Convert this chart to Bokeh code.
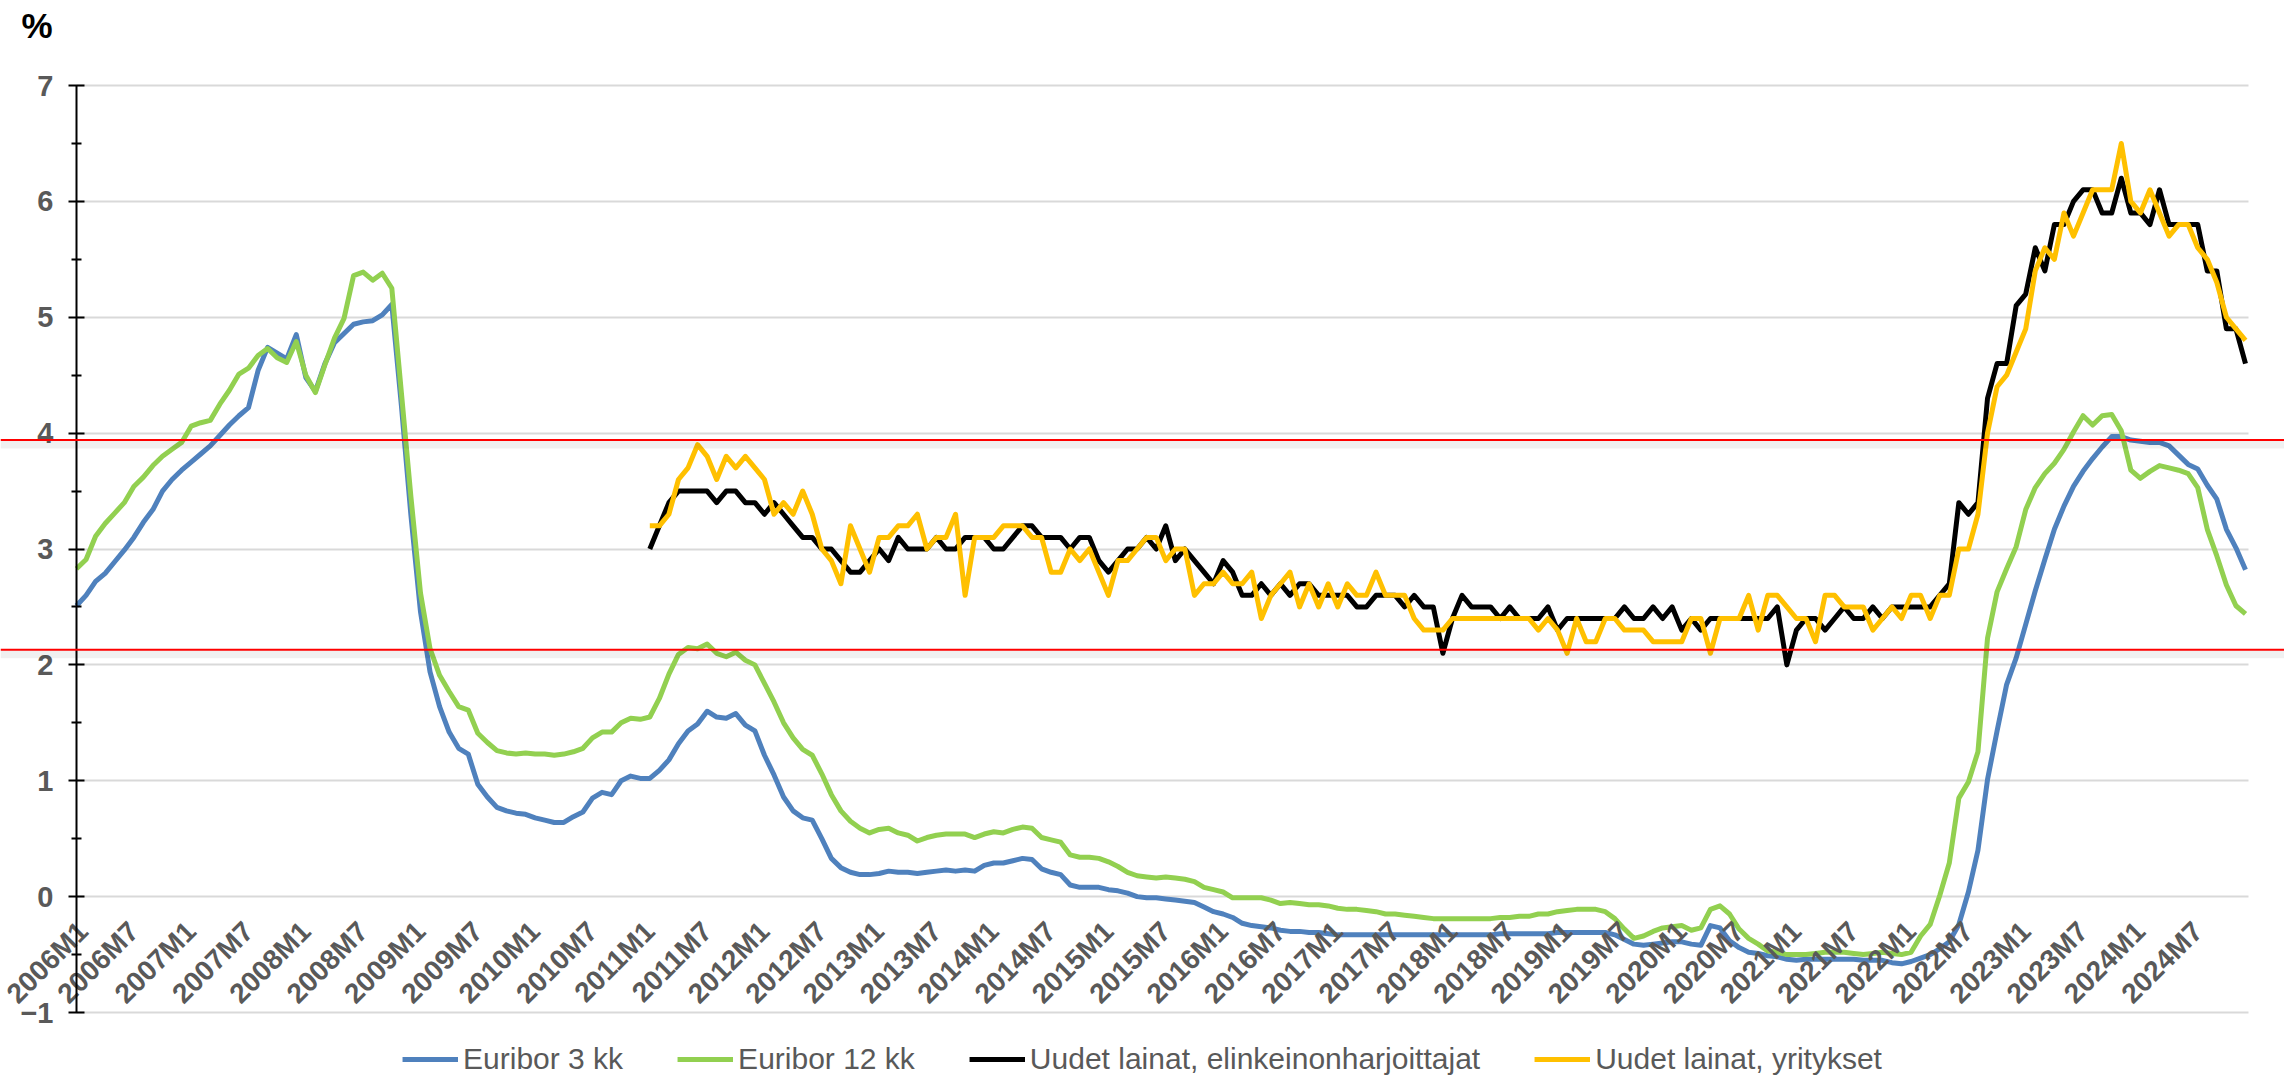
import math
from bokeh.plotting import figure
from bokeh.models import ColumnDataSource, FixedTicker, Span, Label, Range1d
from bokeh.embed import file_html
from bokeh.resources import INLINE

# ---------------- data ----------------
months = [f"{y}M{m}" for y in range(2006, 2025) for m in range(1, 13)]

euribor_3m = [
    2.51, 2.60, 2.72, 2.79, 2.89, 2.99, 3.10, 3.23, 3.34, 3.50, 3.60, 3.68,
    3.75, 3.82, 3.89, 3.98, 4.07, 4.15, 4.22, 4.54, 4.74, 4.69, 4.64, 4.85,
    4.48, 4.36, 4.60, 4.78, 4.86, 4.94, 4.96, 4.97, 5.02, 5.11, 4.24, 3.29,
    2.46, 1.94, 1.64, 1.42, 1.28, 1.23, 0.97, 0.86, 0.77, 0.74, 0.72, 0.71,
    0.68, 0.66, 0.64, 0.64, 0.69, 0.73, 0.85, 0.90, 0.88, 1.00, 1.04, 1.02,
    1.02, 1.09, 1.18, 1.32, 1.43, 1.49, 1.60, 1.55, 1.54, 1.58, 1.48, 1.43,
    1.22, 1.05, 0.86, 0.74, 0.68, 0.66, 0.50, 0.33, 0.25, 0.21, 0.19, 0.19,
    0.20, 0.22, 0.21, 0.21, 0.20, 0.21, 0.22, 0.23, 0.22, 0.23, 0.22, 0.27,
    0.29, 0.29, 0.31, 0.33, 0.32, 0.24, 0.21, 0.19, 0.10, 0.08, 0.08, 0.08,
    0.06, 0.05, 0.03, 0.00, -0.01, -0.01, -0.02, -0.03, -0.04, -0.05, -0.09, -0.13,
    -0.15, -0.18, -0.23, -0.25, -0.26, -0.27, -0.29, -0.30, -0.30, -0.31, -0.31, -0.32,
    -0.33, -0.33, -0.33, -0.33, -0.33, -0.33, -0.33, -0.33, -0.33, -0.33, -0.33, -0.33,
    -0.33, -0.33, -0.33, -0.33, -0.33, -0.32, -0.32, -0.32, -0.32, -0.32, -0.32, -0.31,
    -0.31, -0.31, -0.31, -0.31, -0.31, -0.33, -0.37, -0.41, -0.42, -0.41, -0.40, -0.39,
    -0.39, -0.41, -0.42, -0.25, -0.27, -0.38, -0.44, -0.48, -0.49, -0.51, -0.52, -0.54,
    -0.55, -0.54, -0.54, -0.54, -0.54, -0.54, -0.54, -0.55, -0.55, -0.55, -0.57, -0.58,
    -0.56, -0.53, -0.50, -0.45, -0.39, -0.24, 0.04, 0.40, 1.01, 1.43, 1.83, 2.06,
    2.35, 2.64, 2.91, 3.17, 3.37, 3.54, 3.67, 3.78, 3.88, 3.97, 3.97, 3.94,
    3.93, 3.92, 3.92, 3.89, 3.81, 3.73, 3.69, 3.55, 3.43, 3.17, 3.01, 2.82,
]

euribor_12m = [
    2.83, 2.91, 3.11, 3.22, 3.31, 3.40, 3.54, 3.62, 3.72, 3.80, 3.86, 3.92,
    4.06, 4.09, 4.11, 4.25, 4.37, 4.51, 4.56, 4.67, 4.73, 4.65, 4.61, 4.79,
    4.50, 4.35, 4.59, 4.82, 4.99, 5.36, 5.39, 5.32, 5.38, 5.25, 4.35, 3.45,
    2.62, 2.14, 1.91, 1.77, 1.64, 1.61, 1.41, 1.33, 1.26, 1.24, 1.23, 1.24,
    1.23, 1.23, 1.22, 1.23, 1.25, 1.28, 1.37, 1.42, 1.42, 1.50, 1.54, 1.53,
    1.55, 1.71, 1.92, 2.09, 2.15, 2.14, 2.18, 2.10, 2.07, 2.11, 2.04, 2.00,
    1.84, 1.68, 1.50, 1.37, 1.27, 1.22, 1.06, 0.88, 0.74, 0.65, 0.59, 0.55,
    0.58, 0.59, 0.55, 0.53, 0.48, 0.51, 0.53, 0.54, 0.54, 0.54, 0.51, 0.54,
    0.56, 0.55, 0.58, 0.60, 0.59, 0.51, 0.49, 0.47, 0.36, 0.34, 0.34, 0.33,
    0.30, 0.26, 0.21, 0.18, 0.17, 0.16, 0.17, 0.16, 0.15, 0.13, 0.08, 0.06,
    0.04, -0.01, -0.01, -0.01, -0.01, -0.03, -0.06, -0.05, -0.06, -0.07, -0.07, -0.08,
    -0.10, -0.11, -0.11, -0.12, -0.13, -0.15, -0.15, -0.16, -0.17, -0.18, -0.19, -0.19,
    -0.19, -0.19, -0.19, -0.19, -0.19, -0.18, -0.18, -0.17, -0.17, -0.15, -0.15, -0.13,
    -0.12, -0.11, -0.11, -0.11, -0.13, -0.19, -0.28, -0.36, -0.34, -0.30, -0.27, -0.26,
    -0.25, -0.29, -0.27, -0.11, -0.08, -0.15, -0.28, -0.36, -0.41, -0.47, -0.48, -0.50,
    -0.50, -0.50, -0.49, -0.48, -0.48, -0.48, -0.49, -0.50, -0.49, -0.48, -0.49, -0.50,
    -0.48, -0.34, -0.24, 0.01, 0.29, 0.85, 0.99, 1.25, 2.23, 2.63, 2.83, 3.02,
    3.34, 3.53, 3.65, 3.74, 3.86, 4.01, 4.15, 4.07, 4.15, 4.16, 4.02, 3.68,
    3.61, 3.67, 3.72, 3.70, 3.68, 3.65, 3.53, 3.17, 2.94, 2.69, 2.51, 2.44,
]

loans_start = "2011M1"

loans_entrepreneurs = [
    3.0, 3.2, 3.4, 3.5, 3.5, 3.5, 3.5, 3.4, 3.5, 3.5, 3.4, 3.4,
    3.3, 3.4, 3.3, 3.2, 3.1, 3.1, 3.0, 3.0, 2.9, 2.8, 2.8, 2.9,
    3.0, 2.9, 3.1, 3.0, 3.0, 3.0, 3.1, 3.0, 3.0, 3.1, 3.1, 3.1,
    3.0, 3.0, 3.1, 3.2, 3.2, 3.1, 3.1, 3.1, 3.0, 3.1, 3.1, 2.9,
    2.8, 2.9, 3.0, 3.0, 3.1, 3.0, 3.2, 2.9, 3.0, 2.9, 2.8, 2.7,
    2.9, 2.8, 2.6, 2.6, 2.7, 2.6, 2.7, 2.6, 2.7, 2.7, 2.6, 2.6,
    2.6, 2.6, 2.5, 2.5, 2.6, 2.6, 2.6, 2.5, 2.6, 2.5, 2.5, 2.1,
    2.4, 2.6, 2.5, 2.5, 2.5, 2.4, 2.5, 2.4, 2.4, 2.4, 2.5, 2.3,
    2.4, 2.4, 2.4, 2.4, 2.4, 2.4, 2.5, 2.4, 2.4, 2.5, 2.4, 2.5,
    2.3, 2.4, 2.3, 2.4, 2.4, 2.4, 2.4, 2.4, 2.4, 2.4, 2.5, 2.0,
    2.3, 2.4, 2.4, 2.3, 2.4, 2.5, 2.4, 2.4, 2.5, 2.4, 2.5, 2.5,
    2.5, 2.5, 2.5, 2.6, 2.7, 3.4, 3.3, 3.4, 4.3, 4.6, 4.6, 5.1,
    5.2, 5.6, 5.4, 5.8, 5.8, 6.0, 6.1, 6.1, 5.9, 5.9, 6.2, 5.9,
    5.9, 5.8, 6.1, 5.8, 5.8, 5.8, 5.8, 5.4, 5.4, 4.9, 4.9, 4.6,
]

loans_companies = [
    3.2, 3.2, 3.3, 3.6, 3.7, 3.9, 3.8, 3.6, 3.8, 3.7, 3.8, 3.7,
    3.6, 3.3, 3.4, 3.3, 3.5, 3.3, 3.0, 2.9, 2.7, 3.2, 3.0, 2.8,
    3.1, 3.1, 3.2, 3.2, 3.3, 3.0, 3.1, 3.1, 3.3, 2.6, 3.1, 3.1,
    3.1, 3.2, 3.2, 3.2, 3.1, 3.1, 2.8, 2.8, 3.0, 2.9, 3.0, 2.8,
    2.6, 2.9, 2.9, 3.0, 3.1, 3.1, 2.9, 3.0, 3.0, 2.6, 2.7, 2.7,
    2.8, 2.7, 2.7, 2.8, 2.4, 2.6, 2.7, 2.8, 2.5, 2.7, 2.5, 2.7,
    2.5, 2.7, 2.6, 2.6, 2.8, 2.6, 2.6, 2.6, 2.4, 2.3, 2.3, 2.3,
    2.4, 2.4, 2.4, 2.4, 2.4, 2.4, 2.4, 2.4, 2.4, 2.3, 2.4, 2.3,
    2.1, 2.4, 2.2, 2.2, 2.4, 2.4, 2.3, 2.3, 2.3, 2.2, 2.2, 2.2,
    2.2, 2.4, 2.4, 2.1, 2.4, 2.4, 2.4, 2.6, 2.3, 2.6, 2.6, 2.5,
    2.4, 2.4, 2.2, 2.6, 2.6, 2.5, 2.5, 2.5, 2.3, 2.4, 2.5, 2.4,
    2.6, 2.6, 2.4, 2.6, 2.6, 3.0, 3.0, 3.3, 4.0, 4.4, 4.5, 4.7,
    4.9, 5.4, 5.6, 5.5, 5.9, 5.7, 5.9, 6.1, 6.1, 6.1, 6.5, 6.0,
    5.9, 6.1, 5.9, 5.7, 5.8, 5.8, 5.6, 5.5, 5.3, 5.0, 4.9, 4.8,
]

series_names = ["Euribor 3 kk", "Euribor 12 kk",
                "Uudet lainat, elinkeinonharjoittajat", "Uudet lainat, yritykset"]
y_ticks = [-1, 0, 1, 2, 3, 4, 5, 6, 7]
reference_levels = [3.94, 2.13]

# ---------------- figure ----------------
idx = list(range(len(months)))
loan_idx = list(range(months.index(loans_start), len(months)))

euribor_src = ColumnDataSource(dict(x=idx, e3=euribor_3m, e12=euribor_12m))
loan_src = ColumnDataSource(dict(x=loan_idx, ent=loans_entrepreneurs, comp=loans_companies))

W, H = 2284, 1076
X0, X1 = 76, 2245          # screen x of first / last month
Y7, YM1 = 85, 1012         # screen y of 7 and -1
px_per_month = (X1 - X0) / (len(months) - 1)
px_per_unit = (YM1 - Y7) / 8.0
x_start = -X0 / px_per_month
x_end = (len(months) - 1) + (W - X1) / px_per_month
y_end = 7 + Y7 / px_per_unit
y_start = -1 - (H - YM1) / px_per_unit

p = figure(width=W, height=H, x_range=Range1d(x_start, x_end), y_range=Range1d(y_start, y_end),
           output_backend="svg", toolbar_location=None, min_border=0,
           outline_line_color=None, background_fill_color="white", border_fill_color="white")

FONT = "Liberation Sans"
TICK_COLOR = "#595959"

# y axis
p.yaxis.fixed_location = 0
p.yaxis.bounds = (y_ticks[0], y_ticks[-1])
p.yaxis.ticker = FixedTicker(ticks=y_ticks, minor_ticks=[t + 0.5 for t in y_ticks[:-1]])
p.yaxis.axis_line_color = "black"
p.yaxis.axis_line_width = 2
p.yaxis.major_tick_line_color = "black"
p.yaxis.major_tick_line_width = 2
p.yaxis.major_tick_in = 8
p.yaxis.major_tick_out = 8
p.yaxis.minor_tick_line_color = "black"
p.yaxis.minor_tick_line_width = 2
p.yaxis.minor_tick_in = 5
p.yaxis.minor_tick_out = 5
p.yaxis.major_label_standoff = 15
p.yaxis.major_label_text_font = FONT
p.yaxis.major_label_text_font_style = "bold"
p.yaxis.major_label_text_font_size = "29px"
p.yaxis.major_label_text_color = TICK_COLOR

# x axis
p.xaxis.fixed_location = 0
p.xaxis.ticker = FixedTicker(ticks=idx[::6], minor_ticks=[])
p.xaxis.major_label_overrides = {i: months[i] for i in idx[::6]}
p.xaxis.major_label_orientation = math.pi / 4
p.xaxis.axis_line_color = None
p.xaxis.major_tick_line_color = None
p.xaxis.minor_tick_line_color = None
p.xaxis.major_tick_in = 0
p.xaxis.major_tick_out = 0
p.xaxis.major_label_standoff = 30
p.xaxis.major_label_text_font = FONT
p.xaxis.major_label_text_font_style = "bold"
p.xaxis.major_label_text_font_size = "28px"
p.xaxis.major_label_text_color = TICK_COLOR

# grid
p.xgrid.visible = False
p.ygrid.grid_line_color = "#D9D9D9"
p.ygrid.grid_line_width = 2
p.ygrid.cross_bounds = (0, len(months) - 1 + 0.3)

# reference lines
for lv in reference_levels:
    p.add_layout(Span(location=lv - 4 / px_per_unit, dimension="width", line_color="black",
                      line_alpha=0.06, line_width=9))
    p.add_layout(Span(location=lv, dimension="width", line_color="#FF0000", line_width=2))

# series
LW = 5
p.line("x", "e3", source=euribor_src, line_color="#4F81BD", line_width=LW,
       line_join="round", legend_label=series_names[0])
p.line("x", "e12", source=euribor_src, line_color="#92D050", line_width=LW,
       line_join="round", legend_label=series_names[1])
p.line("x", "ent", source=loan_src, line_color="#000000", line_width=LW,
       line_join="round", legend_label=series_names[2])
p.line("x", "comp", source=loan_src, line_color="#FFC000", line_width=LW,
       line_join="round", legend_label=series_names[3])

# % label
p.add_layout(Label(x=(36.5 - X0) / px_per_month, y=7 + (Y7 - 25) / px_per_unit, text="%",
                   text_font=FONT, text_font_style="bold", text_font_size="35px",
                   text_color="black", text_align="center", text_baseline="middle"))

# legend
lg = p.legend[0]
lg.location = "bottom_center"
lg.orientation = "horizontal"
lg.background_fill_alpha = 0
lg.border_line_color = None
lg.margin = 0
lg.padding = 0
lg.spacing = 54
lg.glyph_width = 56
lg.glyph_height = 30
lg.label_standoff = 5
lg.label_text_font = FONT
lg.label_text_font_size = "30px"
lg.label_text_color = TICK_COLOR

open("out.html", "w").write(file_html(p, INLINE))
